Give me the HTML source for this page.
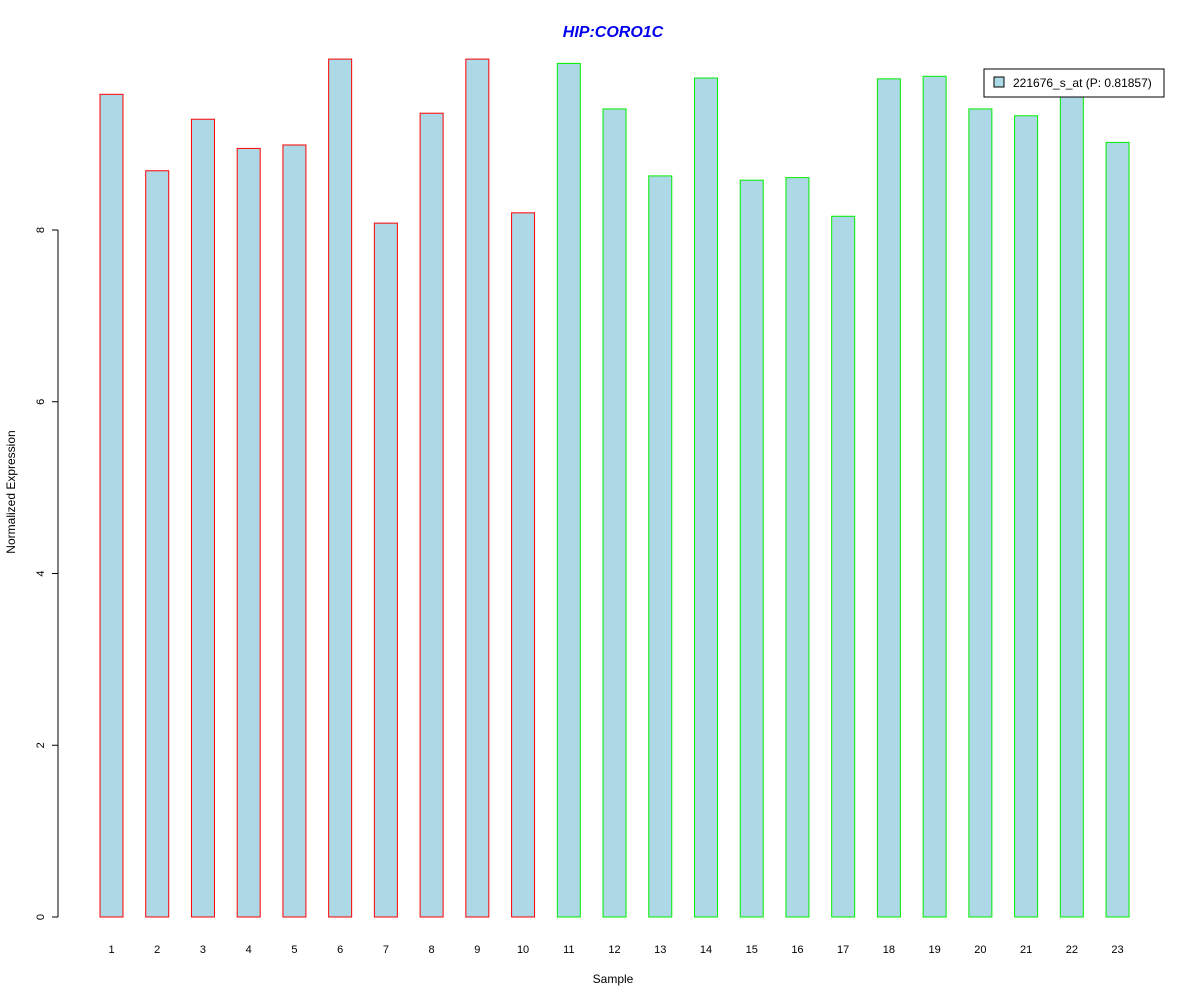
<!DOCTYPE html>
<html><head><meta charset="utf-8"><style>
body{margin:0;background:#fff}
svg{display:block;font-family:"Liberation Sans",Arial,sans-serif}
</style></head><body>
<svg id="chart" width="1200" height="1000">
<rect width="1200" height="1000" fill="#fff"/>
<text x="613" y="37" text-anchor="middle" font-size="16" font-weight="bold" font-style="italic" fill="#0000ee">HIP:CORO1C</text>
<text transform="translate(15,492) rotate(-90)" text-anchor="middle" font-size="12">Normalized Expression</text>
<text x="613" y="983" text-anchor="middle" font-size="12">Sample</text>
<g id="yaxis"></g>
<g id="bars"></g>
<g>
<rect x="984" y="69" width="180" height="28" fill="#fff" stroke="#000"/>
<rect x="994" y="77" width="10" height="10" fill="#add8e6" stroke="#000"/>
<text x="1013" y="87" font-size="12">221676_s_at (P: 0.81857)</text>
</g>
</svg>
<script>
const categories=["1","2","3","4","5","6","7","8","9","10","11","12","13","14","15","16","17","18","19","20","21","22","23"];
const values=[9.58,8.69,9.29,8.95,8.99,9.99,8.08,9.36,9.99,8.20,9.94,9.41,8.63,9.77,8.58,8.61,8.16,9.76,9.79,9.41,9.33,9.57,9.02];
const groups=["a","a","a","a","a","a","a","a","a","a","b","b","b","b","b","b","b","b","b","b","b","b","b"];
const yTicks=[0,2,4,6,8];
const NS="http://www.w3.org/2000/svg";
const y=v=>917-v*85.875;
const x=i=>111.5+i*45.73;
const bw=23;
const ya=document.getElementById('yaxis');
function el(t,a,p){const e=document.createElementNS(NS,t);for(const k in a)e.setAttribute(k,a[k]);p.appendChild(e);return e;}
el('line',{x1:58,x2:58,y1:y(0),y2:y(8),stroke:'#000'},ya);
yTicks.forEach(t=>{
 el('line',{x1:52,x2:58,y1:y(t),y2:y(t),stroke:'#000'},ya);
 const tx=el('text',{transform:`translate(44,${y(t)}) rotate(-90)`,'text-anchor':'middle','font-size':11},ya);
 tx.textContent=t;
 
 
});
const bg=document.getElementById('bars');
values.forEach((v,i)=>{
 const r=el('rect',{x:x(i)-bw/2,y:y(v),width:bw,height:y(0)-y(v),fill:'#add8e6',stroke:groups[i]==='a'?'#ff0000':'#00ee00'},bg);
 
 
 const t=el('text',{x:x(i),y:953,'text-anchor':'middle','font-size':11},bg);
 t.textContent=categories[i];
 
 
});
</script>
</body></html>
